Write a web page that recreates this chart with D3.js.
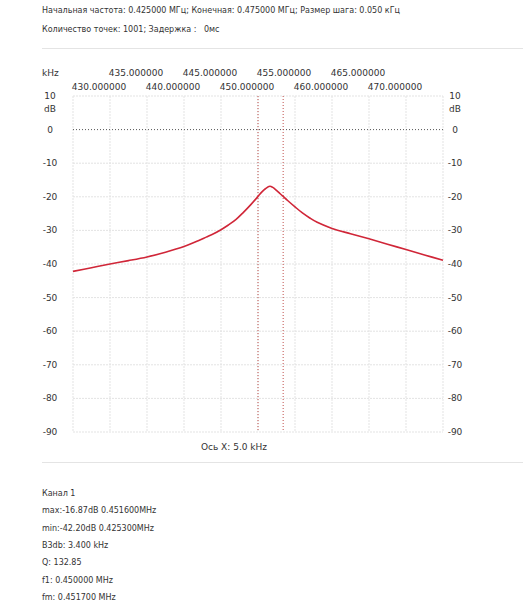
<!DOCTYPE html>
<html>
<head>
<meta charset="utf-8">
<script src="https://cdn.jsdelivr.net/npm/d3@7/dist/d3.min.js"></script>
<style>
  body { margin: 0; background: #fff; }
  text { font-family: "DejaVu Sans", Verdana, sans-serif; fill: #333; white-space: pre; }
</style>
</head>
<body>
<svg width="523" height="610"></svg>
<script>
// measured response, kHz -> dB
const freqKHz = [425, 427.5, 430, 432.5, 435, 437.5, 440, 442, 443, 444, 445, 446, 447, 448, 449, 450, 450.5, 451, 451.6, 452, 452.5, 453, 453.4, 454, 455, 456, 457, 458, 460, 462.5, 465, 467.5, 470, 472.5, 475];
const levelDb = [-42.2, -41.1, -40.0, -39.0, -37.9, -36.5, -34.8, -33.0, -32.0, -31.0, -29.8, -28.4, -26.8, -24.7, -22.4, -19.9, -18.6, -17.6, -16.87, -17.2, -18.1, -19.1, -19.9, -21.1, -23.0, -24.8, -26.3, -27.6, -29.4, -31.0, -32.5, -34.1, -35.7, -37.3, -38.9];

const topTicks = [435, 445, 455, 465];
const bottomTicks = [430, 440, 450, 460, 470];
const dbTicks = [10, 0, -10, -20, -30, -40, -50, -60, -70, -80, -90];
const markersKHz = [450.0, 453.4];

const headerLines = [
  'Начальная частота: 0.425000 МГц; Конечная: 0.475000 МГц; Размер шага: 0.050 кГц',
  'Количество точек: 1001; Задержка :   0мс'
];
const infoLines = [
  'Канал 1',
  'max:-16.87dB 0.451600MHz',
  'min:-42.20dB 0.425300MHz',
  'B3db: 3.400 kHz',
  'Q: 132.85',
  'f1: 0.450000 MHz',
  'fm: 0.451700 MHz'
];

const svg = d3.select('svg');

const x = d3.scaleLinear().domain([425, 475]).range([73, 443]);
const y = d3.scaleLinear().domain([10, -90]).range([96, 432]);

// header
svg.selectAll('.hdr').data(headerLines).enter().append('text')
  .attr('x', 42)
  .attr('y', (d, i) => 13 + i * 19)
  .attr('font-size', 8)
  .text(d => d);

svg.append('line')
  .attr('x1', 42).attr('x2', 523)
  .attr('y1', 48.5).attr('y2', 48.5)
  .attr('stroke', '#e4e4e4');

// grid
const xGrid = d3.range(425, 476, 5);
svg.append('g').selectAll('line').data(xGrid).enter().append('line')
  .attr('x1', d => x(d)).attr('x2', d => x(d))
  .attr('y1', y(10)).attr('y2', y(-90))
  .attr('stroke', '#e3e3e3')
  .attr('stroke-dasharray', '2,1');

svg.append('g').selectAll('line').data(dbTicks.filter(d => d !== 0)).enter().append('line')
  .attr('x1', x(425)).attr('x2', x(475))
  .attr('y1', d => y(d)).attr('y2', d => y(d))
  .attr('stroke', '#e3e3e3')
  .attr('stroke-dasharray', '2,1');

// 0 dB reference
svg.append('line')
  .attr('x1', x(425)).attr('x2', x(475))
  .attr('y1', y(0)).attr('y2', y(0))
  .attr('stroke', '#555')
  .attr('stroke-dasharray', '1,2');

// f1 / f2 markers
svg.append('g').selectAll('line').data(markersKHz).enter().append('line')
  .attr('x1', d => x(d)).attr('x2', d => x(d))
  .attr('y1', y(10)).attr('y2', y(-90))
  .attr('stroke', '#c0504d')
  .attr('stroke-dasharray', '1,2');

// y labels left and right
[50, 455].forEach(cx => {
  svg.append('g').selectAll('text').data(dbTicks).enter().append('text')
    .attr('x', cx)
    .attr('y', d => y(d) + 3)
    .attr('text-anchor', 'middle')
    .attr('font-size', 9)
    .text(d => d);
  svg.append('text')
    .attr('x', cx).attr('y', y(10) + 16)
    .attr('text-anchor', 'middle')
    .attr('font-size', 9)
    .text('dB');
});

// x labels (two staggered rows)
svg.append('text')
  .attr('x', 42).attr('y', 76)
  .attr('font-size', 9)
  .text('kHz');

svg.append('g').selectAll('text').data(topTicks).enter().append('text')
  .attr('x', d => x(d) - 11)
  .attr('y', 76)
  .attr('text-anchor', 'middle')
  .attr('font-size', 9)
  .text(d => d.toFixed(6));

svg.append('g').selectAll('text').data(bottomTicks).enter().append('text')
  .attr('x', d => x(d) - 11)
  .attr('y', 90)
  .attr('text-anchor', 'middle')
  .attr('font-size', 9)
  .text(d => d.toFixed(6));

svg.append('text')
  .attr('x', 234).attr('y', 450)
  .attr('text-anchor', 'middle')
  .attr('font-size', 9)
  .text('Ось X: 5.0 kHz');

// response curve
const line = d3.line()
  .x((d, i) => x(freqKHz[i]))
  .y(d => y(d))
  .curve(d3.curveCatmullRom.alpha(0.5));

svg.append('path')
  .attr('d', line(levelDb))
  .attr('fill', 'none')
  .attr('stroke', '#d02638')
  .attr('stroke-width', 1.6);

// footer
svg.append('line')
  .attr('x1', 42).attr('x2', 523)
  .attr('y1', 462.5).attr('y2', 462.5)
  .attr('stroke', '#e4e4e4');

svg.selectAll('.info').data(infoLines).enter().append('text')
  .attr('x', 42)
  .attr('y', (d, i) => 496 + i * 17.3)
  .attr('font-size', 8)
  .text(d => d);
</script>
</body>
</html>
